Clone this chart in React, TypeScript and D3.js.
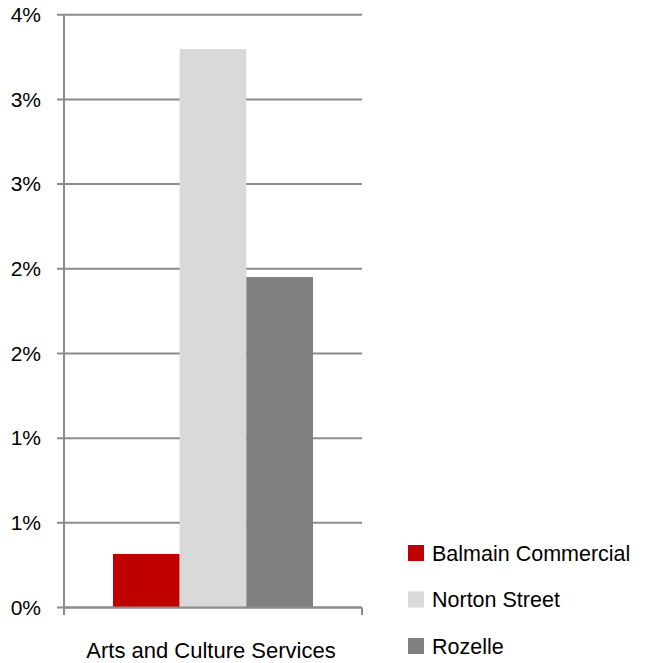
import React from "react";
import * as d3 from "d3";

const categories = ["Arts and Culture Services"];
const seriesNames = ["Balmain Commercial", "Norton Street", "Rozelle"];
const seriesValues = [0.316, 3.297, 1.951];
const seriesColors = ["#c00000", "#d9d9d9", "#808080"];
const yTicks = [0, 0.5, 1, 1.5, 2, 2.5, 3, 3.5];

const W = 646;
const H = 663;
const plotLeft = 64;
const plotRight = 362;
const plotTop = 14.7;
const plotBottom = 607.5;
const font = "'Liberation Sans', Arial, sans-serif";

export default function App() {
  const y = d3.scaleLinear().domain([0, 3.5]).range([plotBottom, plotTop]);
  const x0 = d3
    .scaleBand<string>()
    .domain(categories)
    .range([plotLeft, plotRight])
    .paddingInner(0)
    .paddingOuter(0.245);
  const x1 = d3
    .scaleBand<string>()
    .domain(seriesNames)
    .range([0, x0.bandwidth()])
    .padding(0);
  // Excel-style rounding of half values up (0.5 -> 1%)
  const fmt = (v: number) => `${Math.floor(v + 0.5)}%`;
  const gridColor = "#8c8c8c";

  return (
    <svg
      width={W}
      height={H}
      style={{ position: "absolute", left: 0, top: 0, background: "#fff" }}
    >
      {yTicks.map((t) => (
        <g key={t}>
          <line
            x1={plotLeft - 7}
            x2={plotRight}
            y1={y(t)}
            y2={y(t)}
            stroke={gridColor}
            strokeWidth={2}
          />
          <text
            x={41}
            y={y(t)}
            dy="0.35em"
            textAnchor="end"
            fontFamily={font}
            fontSize={21}
            fill="#000"
          >
            {fmt(t)}
          </text>
        </g>
      ))}
      {categories.map((c) => (
        <g key={c} transform={`translate(${x0(c)},0)`}>
          {seriesNames.map((s, i) => (
            <rect
              key={s}
              x={x1(s)}
              y={y(seriesValues[i])}
              width={x1.bandwidth()}
              height={y(0) - y(seriesValues[i])}
              fill={seriesColors[i]}
            />
          ))}
        </g>
      ))}
      <line x1={plotLeft} x2={plotLeft} y1={plotTop} y2={615} stroke={gridColor} strokeWidth={2} />
      <line x1={plotLeft} x2={plotRight} y1={y(0)} y2={y(0)} stroke={gridColor} strokeWidth={2} />
      <line x1={plotRight} x2={plotRight} y1={y(0)} y2={615} stroke={gridColor} strokeWidth={2} />
      {categories.map((c) => (
        <text
          key={c}
          x={(plotLeft + plotRight) / 2 - 2}
          y={658}
          textAnchor="middle"
          fontFamily={font}
          fontSize={22}
          fill="#000"
        >
          {c}
        </text>
      ))}
      {seriesNames.map((s, i) => (
        <g key={s} transform={`translate(408,${545 + i * 46.5})`}>
          <rect x={0} y={0} width={16} height={16} fill={seriesColors[i]} />
          <text x={24} y={8} dy="0.36em" fontFamily={font} fontSize={21.5} fill="#000">
            {s}
          </text>
        </g>
      ))}
    </svg>
  );
}
